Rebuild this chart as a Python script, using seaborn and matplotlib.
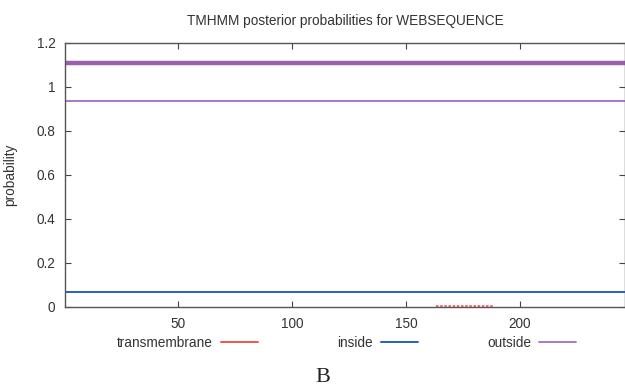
"""TMHMM posterior probability plot (recreation)."""

import matplotlib

matplotlib.use("Agg")

import matplotlib.pyplot as plt
from matplotlib.lines import Line2D
import pandas as pd
import seaborn as sns

# データ
seq_start, seq_end = 1, 246
topology_x = [1, 246]
topology_y = [1.11, 1.11]
outside_x = [1, 246]
outside_y = [0.935, 0.935]
inside_x = [1, 246]
inside_y = [0.066, 0.066]
tm_x = [163, 188]
tm_y = [0.004, 0.004]

x_ticks = [50, 100, 150, 200]
y_ticks = [0, 0.2, 0.4, 0.6, 0.8, 1.0, 1.2]
y_labels = ["0", "0.2", "0.4", "0.6", "0.8", "1", "1.2"]

sns.set_style("white")
plt.rcParams["font.family"] = ["Liberation Sans", "DejaVu Sans"]

text_col = "#333333"
col_tm = "#f0544f"
col_in = "#2a5fb8"
col_out = "#a978c6"
col_topo = "#9a5fb0"
fs = 9.8

W, H = 625, 388
fig = plt.figure(figsize=(W / 100, H / 100), dpi=100)
ax = fig.add_axes([65 / W, 1 - 307 / H, 560 / W, 264 / H])

df_topo = pd.DataFrame({"x": topology_x, "y": topology_y})
df_out = pd.DataFrame({"x": outside_x, "y": outside_y})
df_in = pd.DataFrame({"x": inside_x, "y": inside_y})
df_tm = pd.DataFrame({"x": tm_x, "y": tm_y})

sns.lineplot(data=df_topo, x="x", y="y", ax=ax, color=col_topo, linewidth=3.2)
sns.lineplot(data=df_out, x="x", y="y", ax=ax, color=col_out, linewidth=1.4)
sns.lineplot(data=df_in, x="x", y="y", ax=ax, color=col_in, linewidth=1.4)
sns.lineplot(data=df_tm, x="x", y="y", ax=ax, color=col_tm, linewidth=1.2,
             linestyle=(0, (1.5, 1)))

ax.set_xlim(seq_start - 0.5, seq_end)
ax.set_ylim(0, 1.2)
ax.set_xticks(x_ticks)
ax.set_yticks(y_ticks)
ax.set_yticklabels(y_labels)
ax.tick_params(direction="in", length=4, width=0.8, colors="#444444",
               labelcolor=text_col, labelsize=fs, top=True, right=True,
               left=True, bottom=True, pad=7)
for side in ["left", "bottom", "top", "right"]:
    ax.spines[side].set_color("#555555")
    ax.spines[side].set_linewidth(1.0)
ax.set_xlabel("")
ax.set_ylabel("probability", color=text_col, fontsize=fs, labelpad=14)
ax.set_title("TMHMM posterior probabilities for WEBSEQUENCE", color=text_col,
             fontsize=fs, pad=13)

# 凡例（gnuplot風: テキストの右に線）。右端位置は図のピクセル
legend_items = [("transmembrane", col_tm, 258),
                ("inside", col_in, 418),
                ("outside", col_out, 576)]
for name, col, x_end in legend_items:
    handle = Line2D([], [], color=col, linewidth=1.4)
    leg = fig.legend([handle], [name], loc="center right",
                     bbox_to_anchor=(x_end / W, 1 - 343 / H),
                     bbox_transform=fig.transFigure, markerfirst=False,
                     frameon=False, fontsize=fs, handlelength=2.7,
                     handletextpad=0.6, borderpad=0, borderaxespad=0,
                     labelcolor=text_col)

fig.text(323 / W, 1 - 378 / H, "B", ha="center", va="center", fontsize=16,
         family="Liberation Serif", color="#222222")

fig.savefig("out.png", dpi=100)
